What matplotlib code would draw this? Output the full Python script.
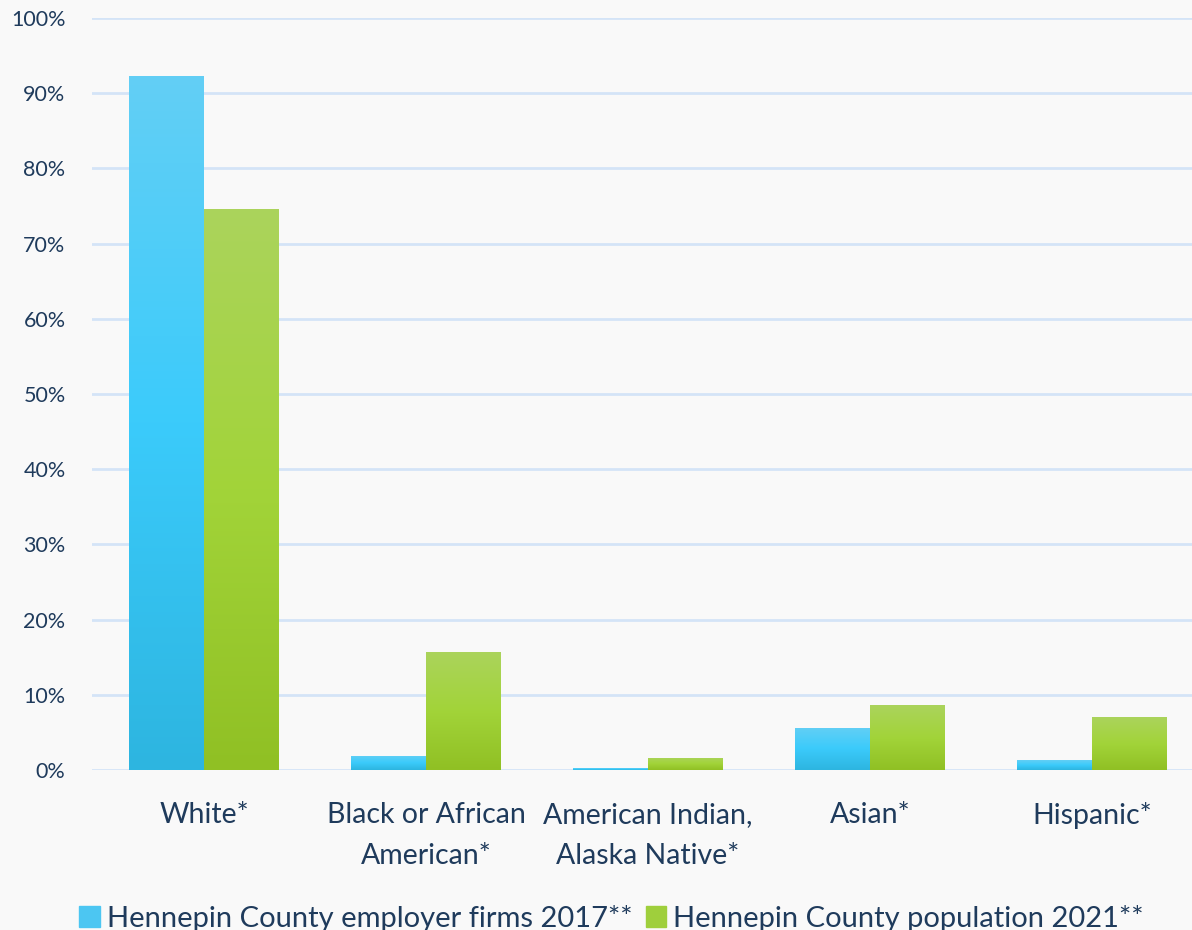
import matplotlib
matplotlib.use("Agg")
import matplotlib.pyplot as plt
import numpy as np
from matplotlib.colors import LinearSegmentedColormap
from matplotlib.ticker import FuncFormatter

categories = ["White*", "Black or African\nAmerican*", "American Indian,\nAlaska Native*", "Asian*", "Hispanic*"]
firms_2017 = [92.3, 1.9, 0.2, 5.6, 1.3]
population_2021 = [74.6, 15.7, 1.6, 8.6, 7.0]
series_names = ["Hennepin County employer firms 2017**", "Hennepin County population 2021**"]

plt.rcParams["font.family"] = ["Lato", "DejaVu Sans"]
text_col = "#1f3b5c"
bg = "#f9f9f9"

blue_cmap = LinearSegmentedColormap.from_list("b", ["#2db5e0", "#3bcbfb", "#63cff5"])
green_cmap = LinearSegmentedColormap.from_list("g", ["#90c024", "#a2d439", "#abd35c"])

fig = plt.figure(figsize=(11.92, 9.30), dpi=100, facecolor=bg)
ax = fig.add_axes([92 / 1192, 160 / 930, 1 - 92 / 1192, 752 / 930], facecolor=bg)

x = np.arange(len(categories))
w = 0.337
grad = np.linspace(0, 1, 256).reshape(-1, 1)


def gradient_bars(xs, vals, cmap, label):
    # plain bars first, then a vertical gradient image clipped to each one
    bars = ax.bar(xs, vals, w, color=cmap(0.5), label=label, zorder=2)
    for b in bars:
        bx, by = b.get_x(), b.get_y()
        bw, bh = b.get_width(), b.get_height()
        b.set_facecolor("none")
        im = ax.imshow(grad, cmap=cmap, aspect="auto", origin="lower",
                       extent=[bx, bx + bw, by, by + bh], zorder=3)
        im.set_clip_path(b)
    return bars


gradient_bars(x - w / 2, firms_2017, blue_cmap, series_names[0])
gradient_bars(x + w / 2, population_2021, green_cmap, series_names[1])

ax.set_xlim(-0.505, 4.45)
ax.set_ylim(0, 100)
ax.set_yticks(np.arange(0, 101, 10))
ax.yaxis.set_major_formatter(FuncFormatter(lambda v, p: f"{v:.0f}%"))
ax.grid(axis="y", color="#d4e4f7", linewidth=2, zorder=0)
ax.set_axisbelow(True)
for s in ax.spines.values():
    s.set_visible(False)
ax.tick_params(length=0, colors=text_col)
ax.tick_params(axis="y", labelsize=15.5, pad=19)
ax.set_xticks(x)
ax.set_xticklabels(categories, fontsize=20.5, color=text_col, linespacing=1.7)
ax.tick_params(axis="x", pad=23)

handles = [plt.Rectangle((0, 0), 1, 1, color="#4cc6f2"), plt.Rectangle((0, 0), 1, 1, color="#9fcf3c")]
fig.legend(handles, series_names, loc="lower center", bbox_to_anchor=(0.513, -0.03), ncol=2,
           frameon=False, fontsize=21, labelcolor=text_col, handlelength=0.7, handleheight=0.7,
           handletextpad=0.25, columnspacing=0.45)

fig.savefig("out.png", dpi=100, facecolor=bg)
